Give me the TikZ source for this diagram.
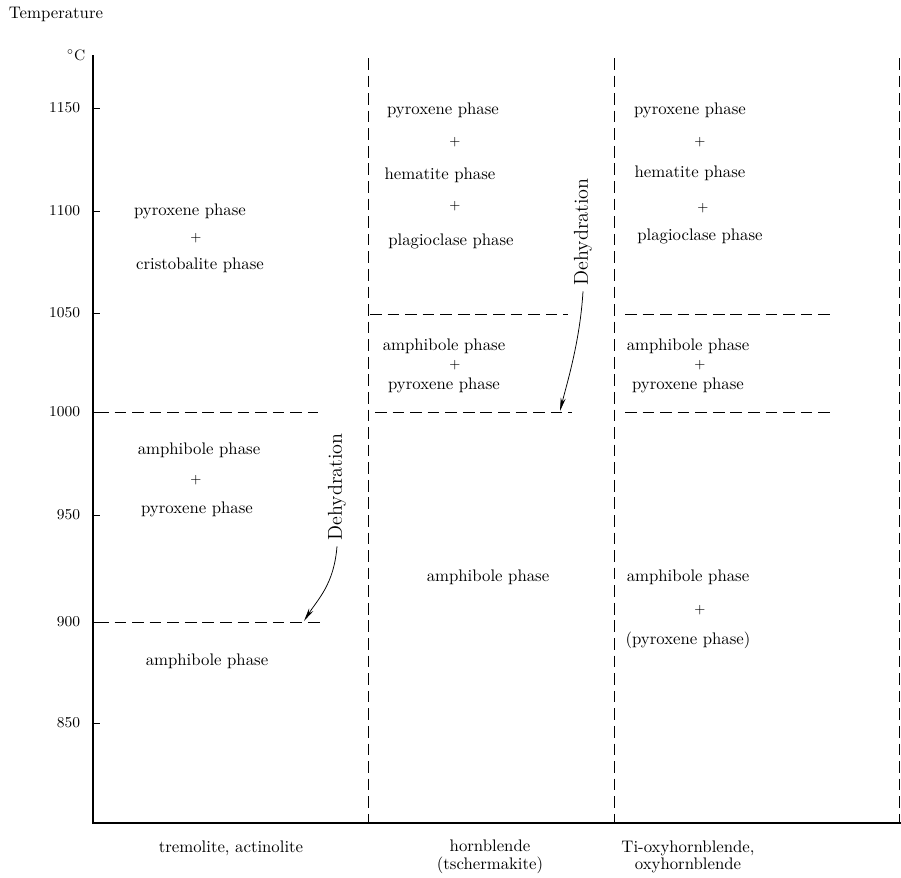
\documentclass[tikz,border=0pt]{standalone}
\usepackage{tikz}
\usetikzlibrary{arrows.meta}

\begin{document}
\begin{tikzpicture}[x=0.021cm,y=-0.021cm,
  phase/.style={inner sep=1pt},
  plus/.style={inner sep=0pt,font=\footnotesize},
  limit/.style={line width=.5pt,dash pattern=on 7pt off 3.5pt},
  dehyd/.style={rotate=90,font=\large},
  dehydarrow/.style={line width=.45pt,-{Stealth[length=8pt,width=3pt]}}]
\path[use as bounding box] (0,0) rectangle (901,877);
\draw[line width=.7pt] (93,55) -- (93,823) -- (901,823);
\foreach \t/\y in {1150/108,1100/211,1050/313,1000/412,950/515,900/622,850/723}{
  \draw[line width=.6pt] (93,\y) -- (100,\y);
  \node[anchor=east,font=\small] (tick\t) at (86,\y) {\t};
}
\node (temp) at (56,14) {Temperature};
\node[font=\small] (unit) at (76,55) {$^\circ$C};
\draw[limit] (368,58) -- (368,823);
\draw[limit] (614,58) -- (614,823);
\draw[limit,line width=.4pt] (899,58) -- (899,823);
\draw[limit] (97,412) -- (318,412);
\draw[limit] (97,622) -- (320,622);
\draw[limit] (370,314) -- (568,314);
\draw[limit] (375,412) -- (572,412);
\draw[limit] (625,314) -- (830,314);
\draw[limit] (625,412) -- (830,412);
\node[phase] (tpyx) at (190,211) {pyroxene phase};
\node[plus] (tplusa) at (196,238) {+};
\node[phase] (tcri) at (200,265) {cristobalite phase};
\node[phase] (tamphb) at (199,450) {amphibole phase};
\node[plus] (tplusb) at (196,480) {+};
\node[phase] (tpyxb) at (197,509) {pyroxene phase};
\node[phase] (tamph) at (207,661) {amphibole phase};
\node[dehyd] (dehydt) at (337,487) {Dehydration};
\coordinate (tipt) at (304,621);
\draw[dehydarrow] (dehydt.west) .. controls +(-3,38) and +(14,-22) .. (tipt);
\node[phase] (hpyx) at (443,110) {pyroxene phase};
\node[plus] (hplusa) at (455,142) {+};
\node[phase] (hhem) at (440,175) {hematite phase};
\node[plus] (hplusb) at (455,206) {+};
\node[phase] (hplag) at (451,241) {plagioclase phase};
\node[phase] (hamphb) at (444,346) {amphibole phase};
\node[plus] (hplusc) at (455,365) {+};
\node[phase] (hpyxb) at (444,385) {pyroxene phase};
\node[phase] (hamph) at (488,577) {amphibole phase};
\node[dehyd] (dehydh) at (583,232) {Dehydration};
\coordinate (tiph) at (560,411);
\draw[dehydarrow] (dehydh.west) .. controls +(-3,50) and +(7,-28) .. (tiph);
\node[phase] (opyx) at (690,110) {pyroxene phase};
\node[plus] (oplusa) at (700,142) {+};
\node[phase] (ohem) at (690,173) {hematite phase};
\node[plus] (oplusb) at (703,208) {+};
\node[phase] (oplag) at (700,236) {plagioclase phase};
\node[phase] (oamphb) at (688,346) {amphibole phase};
\node[plus] (oplusc) at (700,365) {+};
\node[phase] (opyxb) at (688,385) {pyroxene phase};
\node[phase] (oamph) at (688,577) {amphibole phase};
\node[plus] (oplusd) at (700,610) {+};
\node[phase] (opyxc) at (688,640) {(pyroxene phase)};
\node (ltrem) at (231,848) {tremolite, actinolite};
\node[align=center] (lhorn) at (490,857) {hornblende\\[-1.5pt](tschermakite)};
\node[align=center] (loxy) at (688,857) {Ti-oxyhornblende,\\[-1.5pt]oxyhornblende};
\end{tikzpicture}
\end{document}
